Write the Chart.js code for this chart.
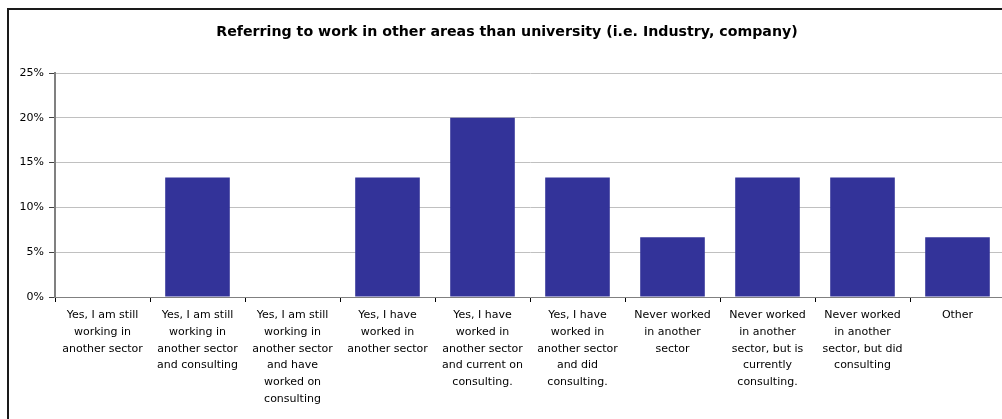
<!DOCTYPE html>
<html>
<head>
<meta charset="utf-8">
<script src="https://cdn.jsdelivr.net/npm/chart.js@4/dist/chart.umd.min.js"></script>
<style>
  html, body { margin: 0; padding: 0; background: #fff; overflow: hidden; width: 1002px; height: 419px; }
  #box { position: absolute; left: 7px; top: 8px; width: 1010px; height: 420px; border: 2px solid #1a1a1a; background: #fff; }
  #chart { position: absolute; left: 0; top: 0; }
</style>
</head>
<body>
<div id="box">
  <canvas id="chart" width="1000" height="420"></canvas>
</div>
<script>
// answers (percent of respondents)
const categories = [
    ["Yes, I am still", "working in", "another sector"],
    ["Yes, I am still", "working in", "another sector", "and consulting"],
    ["Yes, I am still", "working in", "another sector", "and have", "worked on", "consulting"],
    ["Yes, I have", "worked in", "another sector"],
    ["Yes, I have", "worked in", "another sector", "and current on", "consulting."],
    ["Yes, I have", "worked in", "another sector", "and did", "consulting."],
    ["Never worked", "in another", "sector"],
    ["Never worked", "in another", "sector, but is", "currently", "consulting."],
    ["Never worked", "in another", "sector, but did", "consulting"],
    ["Other"]
]
const values = [0, 13.33, 0, 13.33, 20, 13.33, 6.67, 13.33, 13.33, 6.67]
const yTicks = [0, 5, 10, 15, 20, 25]

const font = "'DejaVu Sans', Verdana, sans-serif"

new Chart(document.getElementById("chart").getContext("2d"), {
    type: "bar",
    data: {
        labels: categories,
        datasets: [{
            data: values,
            backgroundColor: "#333399",
            borderWidth: 0,
            barPercentage: 0.68,
            categoryPercentage: 1
        }]
    },
    options: {
        responsive: false,
        animation: false,
        layout: { padding: { left: 0, right: 4, top: 0, bottom: 0 } },
        plugins: {
            legend: { display: false },
            tooltip: { enabled: false },
            title: {
                display: true,
                text: "Referring to work in other areas than university (i.e. Industry, company)",
                color: "#000",
                font: { family: font, size: 14.2, weight: "bold" },
                padding: { top: 14, bottom: 32 }
            }
        },
        scales: {
            x: {
                afterFit: (scale) => { scale.height = 133 },
                grid: {
                    offset: true,
                    drawOnChartArea: false,
                    drawTicks: true,
                    tickLength: 5,
                    tickColor: "#000"
                },
                border: { display: true, color: "#808080", width: 1 },
                ticks: {
                    color: "#000",
                    maxRotation: 0,
                    autoSkip: false,
                    padding: 5,
                    font: { family: font, size: 11, lineHeight: 1.52 }
                }
            },
            y: {
                min: 0,
                max: 25,
                afterFit: (scale) => { scale.width = 46 },
                afterBuildTicks: (scale) => { scale.ticks = yTicks.map(v => ({ value: v })) },
                grid: {
                    color: "#c0c0c0",
                    tickLength: 6,
                    tickColor: "#404040"
                },
                border: { display: true, color: "#808080", width: 2 },
                ticks: {
                    color: "#000",
                    padding: 5,
                    font: { family: font, size: 11 },
                    callback: (v) => v + "%"
                }
            }
        }
    }
})
</script>
</body>
</html>
